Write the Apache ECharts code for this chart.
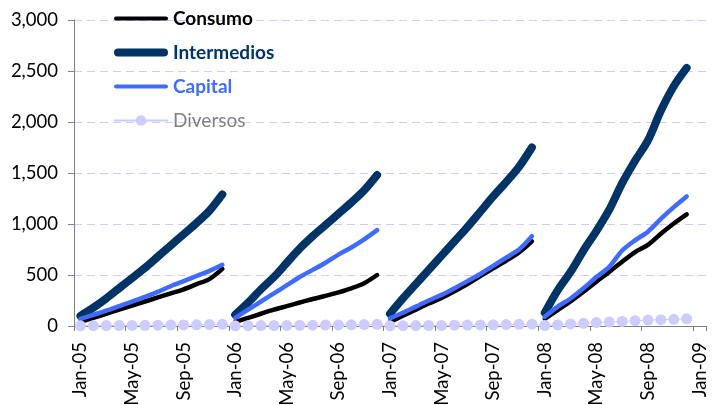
<!DOCTYPE html>
<html>
<head>
<meta charset="utf-8">
<script src="https://cdn.jsdelivr.net/npm/echarts@6/dist/echarts.min.js"></script>
<style>html,body{margin:0;padding:0;background:#fff;}#c{width:712px;height:405px;}</style>
</head>
<body>
<div id="c"></div>
<script>
const months = ['Jan','Feb','Mar','Apr','May','Jun','Jul','Aug','Sep','Oct','Nov','Dec'];
const years = ['05','06','07','08'];
const categories = [];
years.forEach(y => months.forEach(m => categories.push(m + '-' + y)));
categories.push('Jan-09');

const consumo = [
  [40, 80, 120, 160, 200, 240, 280, 320, 360, 410, 460, 560],
  [40, 80, 120, 160, 195, 230, 265, 295, 330, 370, 420, 500],
  [40, 100, 160, 220, 275, 340, 410, 490, 565, 640, 720, 830],
  [70, 155, 240, 335, 435, 530, 630, 725, 795, 905, 1005, 1095]
];
const intermedios = [
  [100, 180, 270, 370, 470, 570, 680, 790, 900, 1010, 1130, 1290],
  [110, 230, 360, 480, 620, 760, 880, 990, 1100, 1210, 1330, 1480],
  [120, 270, 410, 550, 690, 830, 970, 1120, 1270, 1410, 1560, 1750],
  [130, 350, 530, 740, 930, 1140, 1400, 1620, 1820, 2110, 2350, 2530]
];
const capital = [
  [70, 110, 150, 195, 240, 285, 335, 390, 440, 490, 540, 600],
  [80, 160, 240, 320, 400, 480, 550, 620, 700, 770, 850, 940],
  [75, 130, 190, 250, 305, 370, 440, 510, 590, 670, 750, 880],
  [90, 190, 270, 370, 480, 580, 740, 840, 925, 1050, 1165, 1270]
];
const diversos = [
  [2, 3, 4, 5, 6, 7, 8, 9, 10, 12, 14, 16],
  [2, 3, 4, 5, 6, 7, 8, 9, 10, 12, 14, 16],
  [2, 3, 4, 5, 6, 8, 9, 10, 12, 14, 16, 18],
  [5, 12, 20, 26, 34, 38, 45, 52, 58, 62, 66, 70]
];

function yearData(row, yi) {
  const d = [];
  for (let k = 0; k < categories.length; k++) d.push(null);
  for (let i = 0; i < row.length; i++) d[yi * 12 + i] = row[i];
  return d;
}

const styles = {
  Consumo: {color: '#000000', width: 4.5},
  Intermedios: {color: '#003366', width: 8},
  Capital: {color: '#3f6bff', width: 4.5}
};
const seriesSets = [['Consumo', consumo], ['Intermedios', intermedios], ['Capital', capital]];
const series = [];
seriesSets.forEach(function (s) {
  const name = s[0], arr = s[1];
  for (let yi = 0; yi < 4; yi++) {
    series.push({
      id: name + '_' + yi,
      name: name, type: 'line', data: yearData(arr[yi], yi),
      smooth: 0.3, showSymbol: false, symbol: 'circle',
      itemStyle: {color: styles[name].color},
      lineStyle: {color: styles[name].color, width: styles[name].width, cap: 'round', join: 'round'}
    });
  }
});
const divData = [].concat(diversos[0], diversos[1], diversos[2], diversos[3]);
divData.push(null);
series.push({
  id: 'div',
  name: 'Diversos', type: 'line', data: divData,
  symbol: 'circle', symbolSize: 11, showAllSymbol: true,
  itemStyle: {color: '#ccccff'},
  lineStyle: {color: '#ccccff', width: 1}
});

const chart = echarts.init(document.getElementById('c'));
chart.setOption({
  animation: false,
  textStyle: {fontFamily: 'Lato'},
  grid: {left: 74, right: 6, top: 20, bottom: 79, containLabel: false, outerBoundsMode: 'none'},
  legend: {
    orient: 'vertical', left: 108, top: 3,
    itemWidth: 54, itemHeight: 13, itemGap: 13,
    textStyle: {fontFamily: 'Lato', fontSize: 19, lineHeight: 21},
    data: [
      {name: 'Consumo', icon: 'path://M2,0 L52,0 A2,2 0 0 1 52,4 L2,4 A2,2 0 0 1 2,0 Z', textStyle: {color: '#000000', fontWeight: 'bold'}},
      {name: 'Intermedios', icon: 'path://M4,0 L50,0 A4,4 0 0 1 50,8 L4,8 A4,4 0 0 1 4,0 Z', textStyle: {color: '#003366', fontWeight: 'bold'}},
      {name: 'Capital', icon: 'path://M2,0 L52,0 A2,2 0 0 1 52,4 L2,4 A2,2 0 0 1 2,0 Z', textStyle: {color: '#3f6bff', fontWeight: 'bold'}},
      {name: 'Diversos', textStyle: {color: '#808080'}}
    ]
  },
  xAxis: {
    type: 'category', data: categories, boundaryGap: true,
    axisLine: {lineStyle: {color: '#808080', width: 1}},
    axisTick: {show: true, interval: 3, length: 5, lineStyle: {color: '#808080'}},
    axisLabel: {interval: 3, rotate: 90, fontSize: 18.5, color: '#000', margin: 16, fontFamily: 'Lato'}
  },
  yAxis: {
    type: 'value', min: 0, max: 3000, interval: 500,
    axisLine: {show: true, lineStyle: {color: '#808080', width: 1}},
    axisTick: {show: true, length: 6, lineStyle: {color: '#808080'}},
    axisLabel: {fontSize: 18.5, color: '#000', margin: 16, fontFamily: 'Lato',
      formatter: v => v.toLocaleString('en-US')},
    splitLine: {show: true, lineStyle: {color: '#ccccff', type: [8, 5], width: 1}}
  },
  series: series
});
</script>
</body>
</html>
